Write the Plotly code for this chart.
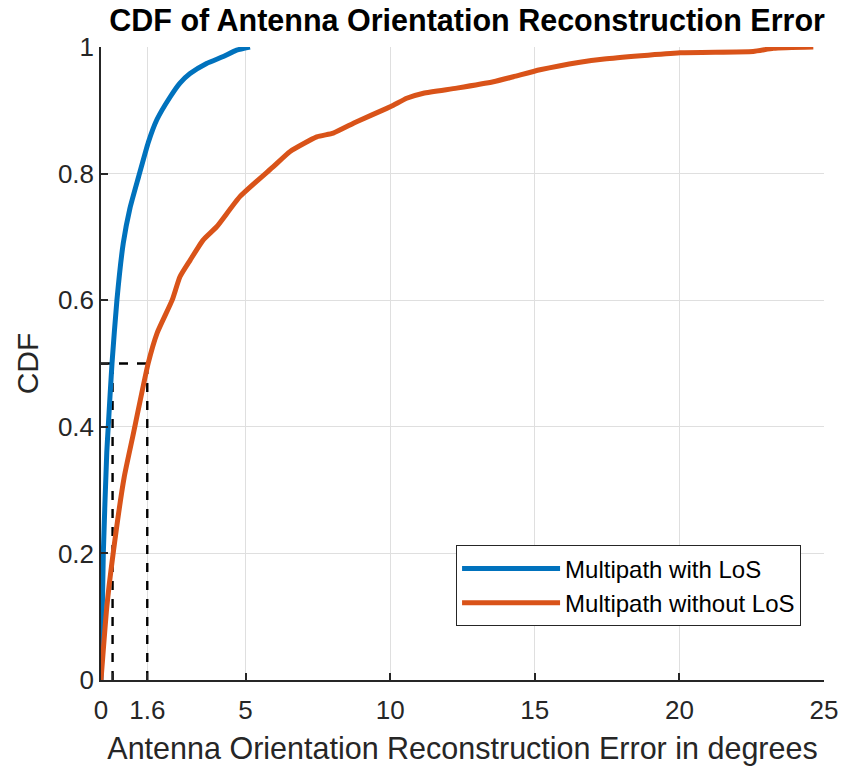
import plotly.graph_objects as go

# Data
los_x = [0, 0.08, 0.2, 0.25, 0.38, 0.55, 0.77, 1.0, 1.3, 1.64, 1.93, 2.39, 2.73, 3.08, 3.65, 4.23, 4.69, 5.15]
los_y = [0, 0.2, 0.36, 0.40, 0.5, 0.60, 0.69, 0.745, 0.795, 0.85, 0.885, 0.921, 0.943, 0.958, 0.974, 0.985, 0.995, 1.0]

nlos_x = [0, 0.2, 0.42, 0.8, 1.1, 1.63, 1.94, 2.46, 2.73, 3.08, 3.53, 4.0, 4.81, 5.96, 6.54, 7.46, 8.03, 8.84,
          9.88, 10.11, 10.57, 11.15, 12.3, 13.57, 14.26, 15.18, 16.56, 17.4, 20.02, 22.55, 23.25, 24.63]
nlos_y = [0, 0.115, 0.2, 0.32, 0.385, 0.5, 0.548, 0.60, 0.637, 0.663, 0.695, 0.716, 0.764, 0.811, 0.835, 0.858, 0.864, 0.882,
          0.903, 0.908, 0.919, 0.927, 0.935, 0.945, 0.953, 0.964, 0.976, 0.981, 0.991, 0.993, 0.998, 1.0]

median_x = [0.4, 1.6]
median_level = 0.5

x_tickvals = [0, 1.6, 5, 10, 15, 20, 25]
x_ticktext = ["0", "1.6", "5", "10", "15", "20", "25"]
y_tickvals = [0, 0.2, 0.4, 0.6, 0.8, 1]
y_ticktext = ["0", "0.2", "0.4", "0.6", "0.8", "1"]

FONT = "Liberation Sans, Arial, Helvetica, sans-serif"
AX = "#262626"
GRID = "#dfdfdf"

fig = go.Figure()

# dashed median guides
fig.add_trace(go.Scatter(x=[0, max(median_x)], y=[median_level, median_level], mode="lines",
                         line=dict(color="black", width=2.4, dash="dash"), showlegend=False, hoverinfo="skip"))
for mx in median_x:
    fig.add_trace(go.Scatter(x=[mx, mx], y=[0, median_level], mode="lines",
                             line=dict(color="black", width=2.4, dash="dash"), showlegend=False, hoverinfo="skip"))

fig.add_trace(go.Scatter(x=los_x, y=los_y, mode="lines", name="Multipath with LoS",
                         line=dict(color="#0072BD", width=5, shape="spline", smoothing=0.5)))
fig.add_trace(go.Scatter(x=nlos_x, y=nlos_y, mode="lines", name="Multipath without LoS",
                         line=dict(color="#D95319", width=5, shape="spline", smoothing=0.5)))

fig.update_layout(
    width=857, height=782,
    margin=dict(l=101, r=33, t=47, b=102),
    paper_bgcolor="white", plot_bgcolor="white",
    font=dict(family=FONT, size=26, color=AX),
    title=dict(text="<b>CDF of Antenna Orientation Reconstruction Error</b>",
               x=0.545, xanchor="center", y=0.988, yanchor="top",
               font=dict(size=30.5, color="black", family=FONT)),
    xaxis=dict(range=[0, 25], tickvals=x_tickvals, ticktext=x_ticktext,
               showgrid=True, gridcolor=GRID, gridwidth=1,
               showline=True, linecolor=AX, linewidth=1.5,
               ticks="inside", ticklen=7, tickcolor=AX, tickwidth=1.5,
               zeroline=False, mirror=False, ticklabelstandoff=6,
               title=dict(text="Antenna Orientation Reconstruction Error in degrees",
                          font=dict(size=30.5, color=AX), standoff=14),
               tickfont=dict(size=26, color=AX)),
    yaxis=dict(range=[0, 1], tickvals=y_tickvals, ticktext=y_ticktext,
               showgrid=True, gridcolor=GRID, gridwidth=1,
               showline=True, linecolor=AX, linewidth=1.5,
               ticks="inside", ticklen=7, tickcolor=AX, tickwidth=1.5,
               zeroline=False,
               title=dict(text="CDF", font=dict(size=30, color=AX), standoff=10),
               tickfont=dict(size=26, color=AX)),
    xaxis2=dict(range=[0, 25], overlaying="x", tickvals=[median_x[0]], showticklabels=False,
                showgrid=False, ticks="inside", ticklen=7, tickcolor=AX, tickwidth=1.5,
                side="bottom", zeroline=False, showline=False),
    yaxis2=dict(range=[0, 1], overlaying="y", tickvals=[median_level], showticklabels=False,
                showgrid=False, ticks="inside", ticklen=7, tickcolor=AX, tickwidth=1.5,
                side="left", zeroline=False, showline=False),
    legend=dict(x=0.968, xanchor="right", y=0.085, yanchor="bottom",
                bgcolor="white", bordercolor=AX, borderwidth=1.2, itemwidth=98,
                font=dict(size=24, color="black"), tracegroupgap=0),
)

# invisible trace to activate secondary tick axes
fig.add_trace(go.Scatter(x=[None], y=[None], xaxis="x2", yaxis="y2", showlegend=False, hoverinfo="skip"))

fig.write_html("out.html")
